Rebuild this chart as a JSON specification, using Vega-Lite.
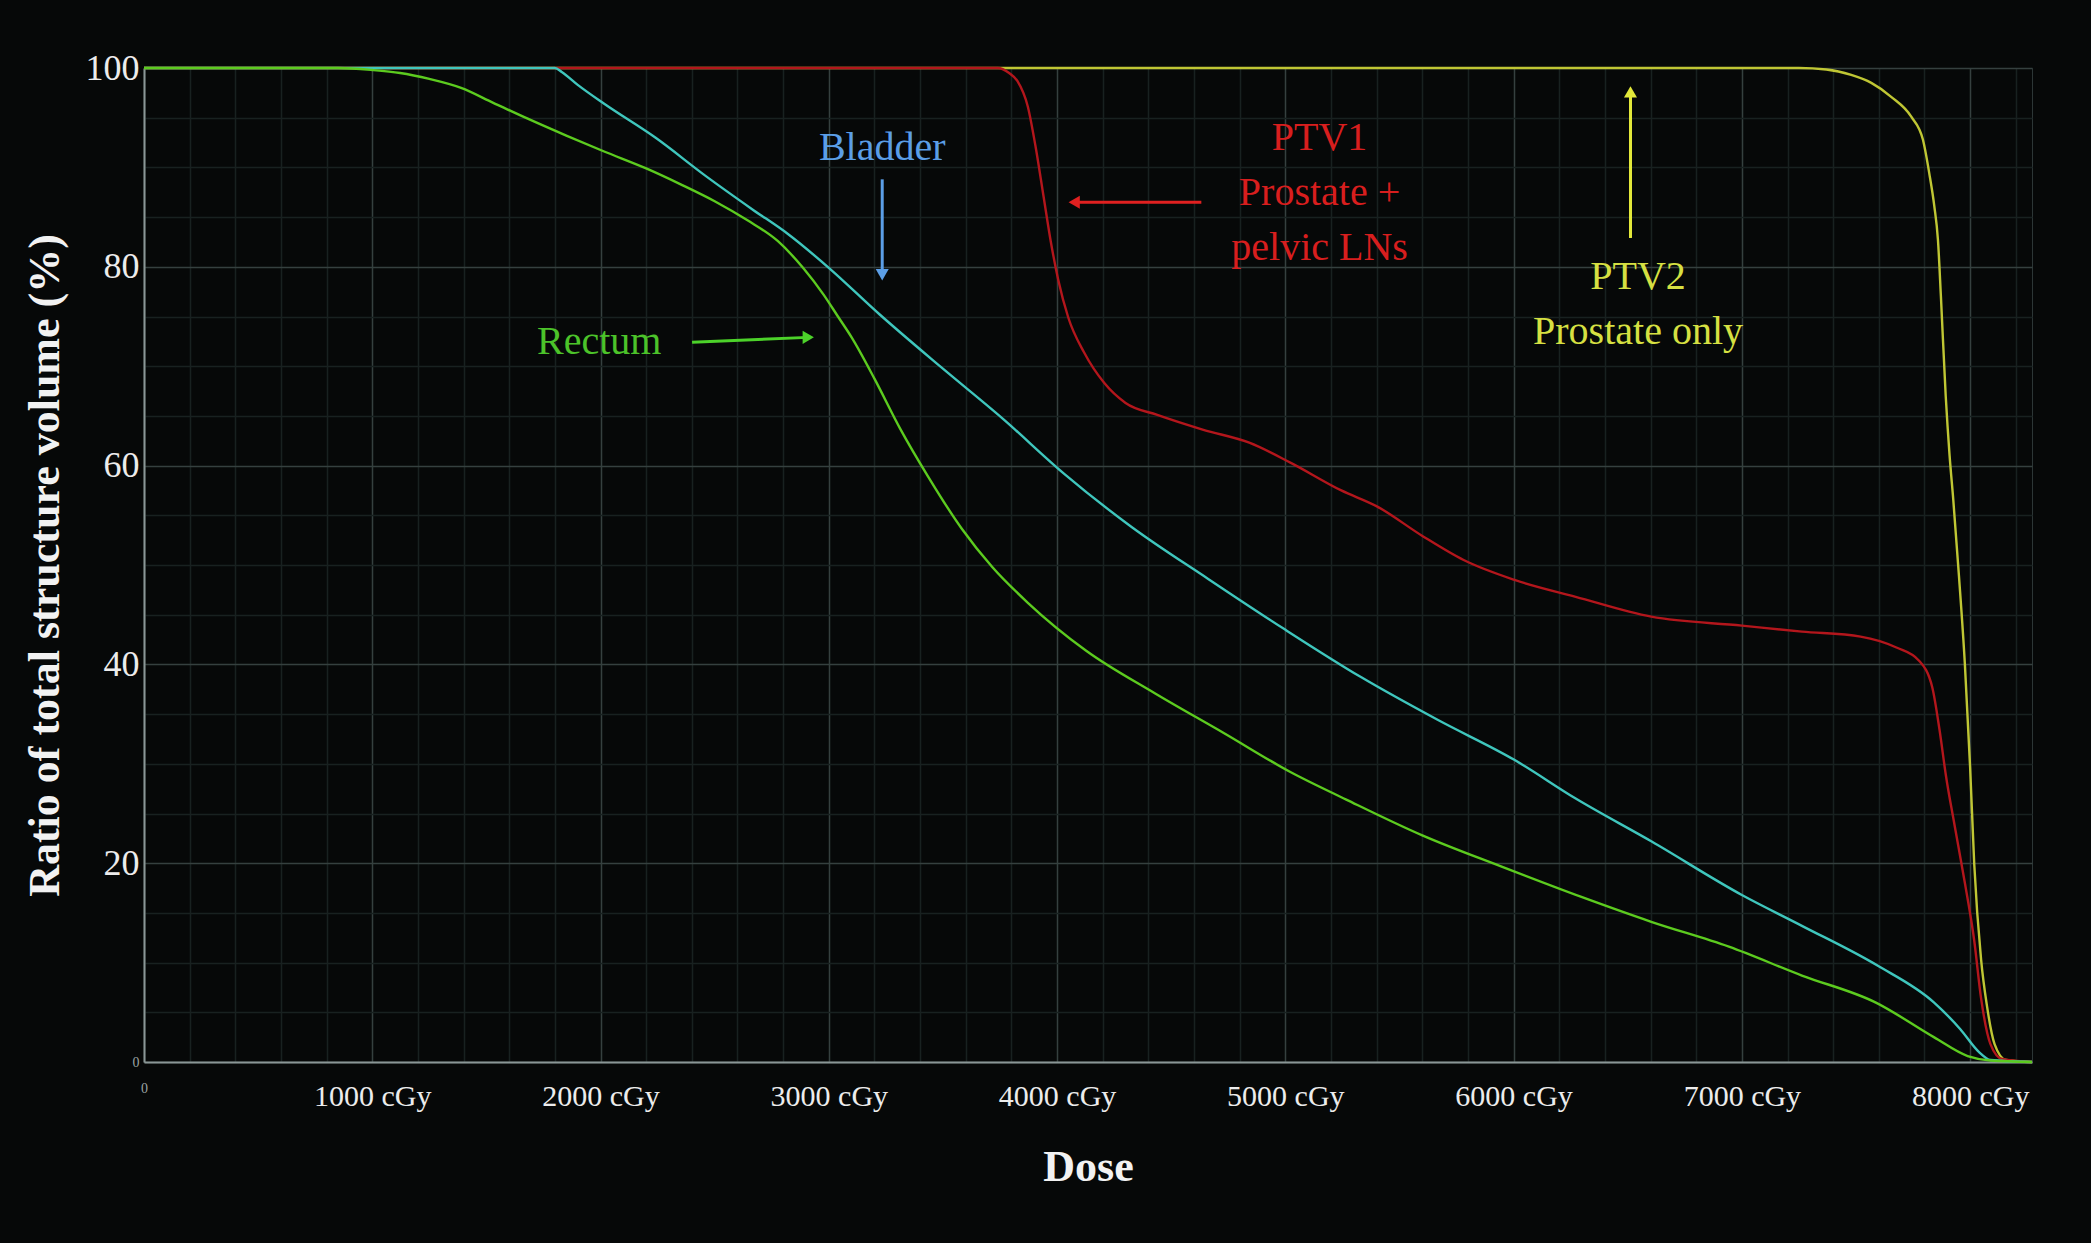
{
  "$schema": "https://vega.github.io/schema/vega-lite/v6.json",
  "width": 1888,
  "height": 994,
  "autosize": {"type": "none"},
  "padding": {"left": 144, "top": 68, "right": 59, "bottom": 181},
  "config": {
    "background": "#060808",
    "font": "Liberation Serif",
    "view": {"stroke": "#2c3636", "strokeWidth": 1}
  },
  "datasets": {
    "curves": [
      {"structure": "PTV2", "dose": 0, "vol": 100},
      {"structure": "PTV2", "dose": 7250, "vol": 100},
      {"structure": "PTV2", "dose": 7370, "vol": 99.85},
      {"structure": "PTV2", "dose": 7479, "vol": 99.3},
      {"structure": "PTV2", "dose": 7567, "vol": 98.5},
      {"structure": "PTV2", "dose": 7654, "vol": 97.1},
      {"structure": "PTV2", "dose": 7742, "vol": 95.1},
      {"structure": "PTV2", "dose": 7793, "vol": 92.8},
      {"structure": "PTV2", "dose": 7821, "vol": 89.4},
      {"structure": "PTV2", "dose": 7843, "vol": 86.1},
      {"structure": "PTV2", "dose": 7859, "vol": 82.7},
      {"structure": "PTV2", "dose": 7872, "vol": 77},
      {"structure": "PTV2", "dose": 7893, "vol": 67},
      {"structure": "PTV2", "dose": 7910, "vol": 61},
      {"structure": "PTV2", "dose": 7926, "vol": 56.6},
      {"structure": "PTV2", "dose": 7951, "vol": 48.9},
      {"structure": "PTV2", "dose": 7977, "vol": 40},
      {"structure": "PTV2", "dose": 8000, "vol": 29.6},
      {"structure": "PTV2", "dose": 8018, "vol": 19.9},
      {"structure": "PTV2", "dose": 8048, "vol": 10.3},
      {"structure": "PTV2", "dose": 8074, "vol": 5.6},
      {"structure": "PTV2", "dose": 8107, "vol": 1.8},
      {"structure": "PTV2", "dose": 8157, "vol": 0.2},
      {"structure": "PTV2", "dose": 8271, "vol": 0},
      {"structure": "PTV1", "dose": 0, "vol": 100},
      {"structure": "PTV1", "dose": 3740, "vol": 100},
      {"structure": "PTV1", "dose": 3790, "vol": 99.5},
      {"structure": "PTV1", "dose": 3826, "vol": 98.7},
      {"structure": "PTV1", "dose": 3872, "vol": 96.1},
      {"structure": "PTV1", "dose": 3905, "vol": 92.2},
      {"structure": "PTV1", "dose": 3940, "vol": 87.2},
      {"structure": "PTV1", "dose": 3972, "vol": 82.6},
      {"structure": "PTV1", "dose": 4005, "vol": 78.7},
      {"structure": "PTV1", "dose": 4049, "vol": 74.9},
      {"structure": "PTV1", "dose": 4118, "vol": 71.4},
      {"structure": "PTV1", "dose": 4207, "vol": 68.3},
      {"structure": "PTV1", "dose": 4300, "vol": 66.3},
      {"structure": "PTV1", "dose": 4439, "vol": 65.1},
      {"structure": "PTV1", "dose": 4641, "vol": 63.6},
      {"structure": "PTV1", "dose": 4842, "vol": 62.3},
      {"structure": "PTV1", "dose": 5022, "vol": 60.3},
      {"structure": "PTV1", "dose": 5245, "vol": 57.5},
      {"structure": "PTV1", "dose": 5401, "vol": 55.9},
      {"structure": "PTV1", "dose": 5602, "vol": 52.9},
      {"structure": "PTV1", "dose": 5781, "vol": 50.5},
      {"structure": "PTV1", "dose": 6004, "vol": 48.5},
      {"structure": "PTV1", "dose": 6272, "vol": 46.8},
      {"structure": "PTV1", "dose": 6603, "vol": 44.8},
      {"structure": "PTV1", "dose": 7000, "vol": 43.9},
      {"structure": "PTV1", "dose": 7263, "vol": 43.3},
      {"structure": "PTV1", "dose": 7520, "vol": 42.8},
      {"structure": "PTV1", "dose": 7677, "vol": 41.7},
      {"structure": "PTV1", "dose": 7775, "vol": 40.4},
      {"structure": "PTV1", "dose": 7834, "vol": 37.7},
      {"structure": "PTV1", "dose": 7866, "vol": 33.4},
      {"structure": "PTV1", "dose": 7894, "vol": 28.8},
      {"structure": "PTV1", "dose": 7932, "vol": 23.8},
      {"structure": "PTV1", "dose": 7977, "vol": 18},
      {"structure": "PTV1", "dose": 8018, "vol": 12.2},
      {"structure": "PTV1", "dose": 8048, "vol": 6.4},
      {"structure": "PTV1", "dose": 8089, "vol": 1.8},
      {"structure": "PTV1", "dose": 8140, "vol": 0.3},
      {"structure": "PTV1", "dose": 8271, "vol": 0},
      {"structure": "Bladder", "dose": 0, "vol": 100},
      {"structure": "Bladder", "dose": 1800, "vol": 100},
      {"structure": "Bladder", "dose": 1830, "vol": 99.6},
      {"structure": "Bladder", "dose": 1900, "vol": 98.3},
      {"structure": "Bladder", "dose": 2016, "vol": 96.4},
      {"structure": "Bladder", "dose": 2240, "vol": 93},
      {"structure": "Bladder", "dose": 2463, "vol": 89.1},
      {"structure": "Bladder", "dose": 2664, "vol": 85.8},
      {"structure": "Bladder", "dose": 2821, "vol": 83.3},
      {"structure": "Bladder", "dose": 3000, "vol": 79.9},
      {"structure": "Bladder", "dose": 3223, "vol": 75.2},
      {"structure": "Bladder", "dose": 3492, "vol": 69.9},
      {"structure": "Bladder", "dose": 3763, "vol": 64.7},
      {"structure": "Bladder", "dose": 4030, "vol": 59.2},
      {"structure": "Bladder", "dose": 4328, "vol": 53.8},
      {"structure": "Bladder", "dose": 4662, "vol": 48.6},
      {"structure": "Bladder", "dose": 4999, "vol": 43.5},
      {"structure": "Bladder", "dose": 5333, "vol": 38.7},
      {"structure": "Bladder", "dose": 5669, "vol": 34.4},
      {"structure": "Bladder", "dose": 6003, "vol": 30.4},
      {"structure": "Bladder", "dose": 6272, "vol": 26.5},
      {"structure": "Bladder", "dose": 6603, "vol": 22.2},
      {"structure": "Bladder", "dose": 7000, "vol": 16.8},
      {"structure": "Bladder", "dose": 7263, "vol": 13.7},
      {"structure": "Bladder", "dose": 7594, "vol": 9.7},
      {"structure": "Bladder", "dose": 7841, "vol": 6},
      {"structure": "Bladder", "dose": 7957, "vol": 3.3},
      {"structure": "Bladder", "dose": 8039, "vol": 1},
      {"structure": "Bladder", "dose": 8089, "vol": 0.2},
      {"structure": "Bladder", "dose": 8271, "vol": 0},
      {"structure": "Rectum", "dose": 0, "vol": 100},
      {"structure": "Rectum", "dose": 850, "vol": 100},
      {"structure": "Rectum", "dose": 1000, "vol": 99.8},
      {"structure": "Rectum", "dose": 1122, "vol": 99.5},
      {"structure": "Rectum", "dose": 1250, "vol": 98.9},
      {"structure": "Rectum", "dose": 1389, "vol": 98},
      {"structure": "Rectum", "dose": 1530, "vol": 96.5},
      {"structure": "Rectum", "dose": 1681, "vol": 94.9},
      {"structure": "Rectum", "dose": 1850, "vol": 93.2},
      {"structure": "Rectum", "dose": 2016, "vol": 91.6},
      {"structure": "Rectum", "dose": 2200, "vol": 89.9},
      {"structure": "Rectum", "dose": 2351, "vol": 88.3},
      {"structure": "Rectum", "dose": 2500, "vol": 86.6},
      {"structure": "Rectum", "dose": 2642, "vol": 84.7},
      {"structure": "Rectum", "dose": 2776, "vol": 82.6},
      {"structure": "Rectum", "dose": 2887, "vol": 79.9},
      {"structure": "Rectum", "dose": 2977, "vol": 77.2},
      {"structure": "Rectum", "dose": 3040, "vol": 75},
      {"structure": "Rectum", "dose": 3100, "vol": 72.9},
      {"structure": "Rectum", "dose": 3201, "vol": 68.7},
      {"structure": "Rectum", "dose": 3313, "vol": 63.7},
      {"structure": "Rectum", "dose": 3435, "vol": 58.9},
      {"structure": "Rectum", "dose": 3581, "vol": 53.7},
      {"structure": "Rectum", "dose": 3716, "vol": 49.8},
      {"structure": "Rectum", "dose": 3872, "vol": 46.2},
      {"structure": "Rectum", "dose": 4126, "vol": 41.4},
      {"structure": "Rectum", "dose": 4428, "vol": 37.1},
      {"structure": "Rectum", "dose": 4730, "vol": 33.1},
      {"structure": "Rectum", "dose": 5020, "vol": 29.2},
      {"structure": "Rectum", "dose": 5267, "vol": 26.4},
      {"structure": "Rectum", "dose": 5600, "vol": 22.8},
      {"structure": "Rectum", "dose": 5942, "vol": 19.7},
      {"structure": "Rectum", "dose": 6297, "vol": 16.6},
      {"structure": "Rectum", "dose": 6603, "vol": 14.1},
      {"structure": "Rectum", "dose": 6943, "vol": 11.6},
      {"structure": "Rectum", "dose": 7263, "vol": 8.7},
      {"structure": "Rectum", "dose": 7585, "vol": 6},
      {"structure": "Rectum", "dose": 7841, "vol": 2.5},
      {"structure": "Rectum", "dose": 7989, "vol": 0.6},
      {"structure": "Rectum", "dose": 8089, "vol": 0.15},
      {"structure": "Rectum", "dose": 8271, "vol": 0}
    ],
    "notes": [
      {"who": "Bladder", "dose": 3234, "vol": 92.0, "text": "Bladder"},
      {"who": "Rectum", "dose": 1994, "vol": 72.4, "text": "Rectum"},
      {"who": "PTV1", "dose": 5150, "vol": 93.0, "text": "PTV1"},
      {"who": "PTV1", "dose": 5150, "vol": 87.4, "text": "Prostate +"},
      {"who": "PTV1", "dose": 5150, "vol": 81.9, "text": "pelvic LNs"},
      {"who": "PTV2", "dose": 6545, "vol": 79.0, "text": "PTV2"},
      {"who": "PTV2", "dose": 6545, "vol": 73.4, "text": "Prostate only"}
    ],
    "arrows": [
      {"who": "Bladder", "dir": "down", "dose": 3234, "vol": 88.8, "dose2": 3234, "vol2": 79.2},
      {"who": "Rectum", "dir": "right", "dose": 2401, "vol": 72.4, "dose2": 2910, "vol2": 72.9},
      {"who": "PTV1", "dir": "left", "dose": 4632, "vol": 86.5, "dose2": 4075, "vol2": 86.5},
      {"who": "PTV2", "dir": "up", "dose": 6512, "vol": 82.9, "dose2": 6512, "vol2": 97.6}
    ]
  },
  "layer": [
    {
      "data": {"name": "curves"},
      "mark": {"type": "line", "strokeWidth": 2.4, "interpolate": "monotone"},
      "encoding": {
        "x": {
          "field": "dose",
          "type": "quantitative",
          "scale": {"domain": [0, 8271], "nice": false, "zero": false},
          "axis": {
            "title": "Dose",
            "values": [0, 100, 200, 300, 400, 500, 600, 700, 800, 900, 1000, 1100, 1200, 1300, 1400, 1500, 1600, 1700, 1800, 1900, 2000, 2100, 2200, 2300, 2400, 2500, 2600, 2700, 2800, 2900, 3000, 3100, 3200, 3300, 3400, 3500, 3600, 3700, 3800, 3900, 4000, 4100, 4200, 4300, 4400, 4500, 4600, 4700, 4800, 4900, 5000, 5100, 5200, 5300, 5400, 5500, 5600, 5700, 5800, 5900, 6000, 6100, 6200, 6300, 6400, 6500, 6600, 6700, 6800, 6900, 7000, 7100, 7200, 7300, 7400, 7500, 7600, 7700, 7800, 7900, 8000, 8100, 8200],
            "grid": true,
            "gridColor": {"condition": {"test": "datum.value % 1000 === 0", "value": "#35403f"}, "value": "#182120"},
            "gridWidth": 1.5,
            "ticks": false,
            "domainColor": "#8a9696",
            "domainWidth": 2,
            "labelExpr": "datum.value === 0 ? '0' : (datum.value % 1000 === 0 ? datum.value + ' cGy' : '')",
            "labelFont": "Liberation Serif",
            "labelFontSize": {"condition": {"test": "datum.value === 0", "value": 14}, "value": 30},
            "labelColor": {"condition": {"test": "datum.value === 0", "value": "#9aa4a4"}, "value": "#ececec"},
            "labelPadding": 19,
            "labelOverlap": false,
            "labelFlush": false,
            "labelBound": false,
            "titleFont": "Liberation Serif",
            "titleFontSize": 44,
            "titleFontWeight": "bold",
            "titleColor": "#f2f2f2",
            "titlePadding": 34
          }
        },
        "y": {
          "field": "vol",
          "type": "quantitative",
          "scale": {"domain": [0, 100], "nice": false},
          "axis": {
            "title": "Ratio of total structure volume (%)",
            "values": [0, 5, 10, 15, 20, 25, 30, 35, 40, 45, 50, 55, 60, 65, 70, 75, 80, 85, 90, 95, 100],
            "grid": true,
            "gridColor": {"condition": {"test": "datum.value % 20 === 0", "value": "#35403f"}, "value": "#182120"},
            "gridWidth": 1.5,
            "ticks": false,
            "domainColor": "#8a9696",
            "domainWidth": 2,
            "labelExpr": "datum.value % 20 === 0 ? datum.label : ''",
            "labelFont": "Liberation Serif",
            "labelFontSize": {"condition": {"test": "datum.value === 0", "value": 14}, "value": 36},
            "labelColor": {"condition": {"test": "datum.value === 0", "value": "#9aa4a4"}, "value": "#ececec"},
            "labelPadding": 5,
            "labelOverlap": false,
            "labelBound": false,
            "titleFont": "Liberation Serif",
            "titleFontSize": 44,
            "titleFontWeight": "bold",
            "titleColor": "#f2f2f2",
            "titlePadding": 18
          }
        },
        "color": {
          "field": "structure",
          "type": "nominal",
          "scale": {
            "domain": ["PTV2", "PTV1", "Bladder", "Rectum"],
            "range": ["#bfc634", "#b3161c", "#3fc6bd", "#5ccb1f"]
          },
          "legend": null
        }
      }
    },
    {
      "data": {"name": "arrows"},
      "mark": {"type": "rule", "strokeWidth": 3},
      "encoding": {
        "x": {"field": "dose", "type": "quantitative"},
        "y": {"field": "vol", "type": "quantitative"},
        "x2": {"field": "dose2"},
        "y2": {"field": "vol2"},
        "color": {
          "field": "who",
          "type": "nominal",
          "scale": {
            "domain": ["Bladder", "Rectum", "PTV1", "PTV2"],
            "range": ["#5b9ee6", "#4cd22a", "#e02020", "#e2e83a"]
          },
          "legend": null
        }
      }
    },
    {
      "data": {"name": "arrows"},
      "mark": {"type": "point", "filled": true, "size": 170, "opacity": 1},
      "encoding": {
        "x": {"field": "dose2", "type": "quantitative"},
        "y": {"field": "vol2", "type": "quantitative"},
        "shape": {
          "field": "dir",
          "type": "nominal",
          "scale": {
            "domain": ["down", "right", "left", "up"],
            "range": ["triangle-down", "triangle-right", "triangle-left", "triangle-up"]
          },
          "legend": null
        },
        "color": {
          "field": "who",
          "type": "nominal",
          "scale": {
            "domain": ["Bladder", "Rectum", "PTV1", "PTV2"],
            "range": ["#5b9ee6", "#4cd22a", "#e02020", "#e2e83a"]
          },
          "legend": null
        }
      }
    },
    {
      "data": {"name": "notes"},
      "mark": {"type": "text", "font": "Liberation Serif", "fontSize": 40, "align": "center", "baseline": "middle"},
      "encoding": {
        "x": {"field": "dose", "type": "quantitative"},
        "y": {"field": "vol", "type": "quantitative"},
        "text": {"field": "text"},
        "color": {
          "field": "who",
          "type": "nominal",
          "scale": {
            "domain": ["Bladder", "Rectum", "PTV1", "PTV2"],
            "range": ["#5b9ee6", "#4cc32a", "#d81e1e", "#d6e042"]
          },
          "legend": null
        }
      }
    }
  ],
  "resolve": {"scale": {"color": "independent"}}
}
